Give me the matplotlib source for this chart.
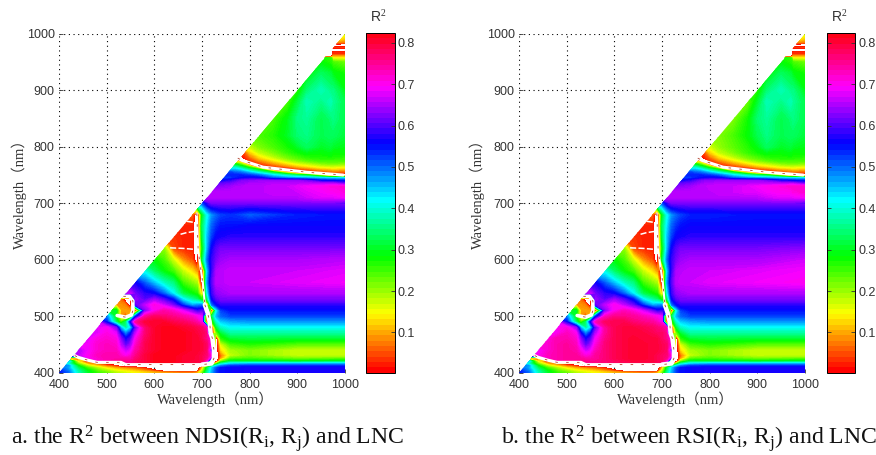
import numpy as np
import matplotlib
matplotlib.use("Agg")
import matplotlib.pyplot as plt
from matplotlib.patches import Polygon
from matplotlib.cm import ScalarMappable
from matplotlib.colors import Normalize

plt.rcParams['mathtext.fontset'] = 'custom'
plt.rcParams['mathtext.rm'] = 'Liberation Serif'
plt.rcParams['mathtext.it'] = 'Liberation Serif'

# R2 x 100, rows right aligned (row starts near the diagonal); negative = no colour (white)
low_x = [400,420,440,460,480,500,520,530,540,550,560,580,600,620,640,660,680,690,700,710,720,730,740,760,800,900,1000]
low_y = [400,404,408,412,416,420,425,430,440,450,460,470,480,490,500,510,520,530,540,560,580,600,620,640,660,680,700]
low_a = [
[55,50,38,30,25,22,18,17,16,15,14,12,10,9,8,7,7,9,20,35,45,52,55,56,57,57,57],
[54,48,36,28,22,18,14,13,12,11,10,7,2,-5,-5,-5,-5,-5,14,32,44,52,55,56,57,57,57],
[52,46,33,24,18,13,9,8,7,6,5,2,-5,-5,-5,-5,-5,-5,10,30,43,51,55,56,57,57,57],
[50,47,28,17,11,6,2,-5,-5,-5,-5,-5,-5,-5,-5,-5,-5,-5,-5,10,30,42,48,52,53,53,53],
[45,38,20,8,3,-5,-5,-3,74,76,78,80,82,82,81,80,80,79,60,-5,-5,18,35,42,44,44,44],
[45,12,-3,72,74,76,76,76,76,78,80,82,82,82,81,80,80,79,70,-5,-5,20,30,29,28,30],
[2,70,72,74,74,74,74,74,77,80,82,82,82,81,81,80,79,76,60,-5,8,22,24,21,22],
[66,70,73,74,74,72,70,72,76,80,82,82,82,81,81,80,79,77,70,-5,6,17,21,17,17],
[65,69,72,73,73,69,66,68,74,79,81,82,82,82,81,81,80,78,60,-5,12,19,21,17,17],
[69,72,73,72,66,60,64,72,79,81,82,82,82,81,81,80,78,70,-5,16,24,26,23,23],
[68,71,72,71,63,56,60,70,78,81,82,82,82,81,81,79,76,70,-5,25,30,31,30,30],
[68,71,68,56,47,54,66,77,81,82,82,82,81,80,79,77,-5,20,30,36,36,36,36],
[68,70,62,44,35,42,60,77,81,82,82,81,80,79,78,74,-5,30,38,41,41,41,41],
[67,54,32,22,32,55,75,80,81,81,79,78,76,74,70,-5,22,38,44,46,47,47,47],
[48,27,8,4,15,50,74,78,77,76,74,72,70,68,-5,30,45,50,52,52,52,52],
[30,9,9,8,-5,62,70,74,72,68,62,58,60,62,-5,40,52,55,55,55,55],
[8,8,7,-5,60,66,71,67,62,52,45,47,48,-5,48,55,58,58,58,58,58],
[6,-5,-5,64,60,64,60,54,42,36,33,25,30,55,60,62,62,62,62,62],
[66,67,62,58,56,50,42,32,28,26,10,38,58,63,64,65,65,65,65],
[56,50,44,38,34,24,20,18,-5,45,60,66,66,67,67,68,69],
[40,33,28,24,17,12,8,-5,42,58,65,66,67,67,67,68],
[28,24,16,8,4,-5,30,48,58,62,64,65,65,65,66],
[20,4,2,2,-5,26,44,56,60,62,62,62,62,62],
[3,2,2,-5,30,44,52,56,57,58,58,58,58],
[2,2,-5,32,42,50,53,55,55,56,56,56],
[5,-5,28,40,47,50,52,53,50,54,55],
[50,58,62,62,62,62,62,62,62],
]
low_b = [
[55,50,38,30,25,22,18,17,16,15,14,12,10,9,8,7,7,9,20,35,45,52,55,56,57,57,57],
[54,48,36,28,22,18,14,13,12,11,10,7,2,-5,-5,-5,-5,-5,14,32,44,52,55,56,57,57,57],
[52,46,33,24,18,13,9,8,7,6,5,2,-5,-5,-5,-5,-5,-5,10,30,43,51,55,56,57,57,57],
[50,47,28,17,11,6,2,-5,-5,-5,-5,-5,-5,-5,-5,-5,-5,-5,-5,10,30,42,48,52,53,53,53],
[45,38,20,8,3,-5,-5,-3,74,75,76,77,78,79,79,79,79,78,60,-5,-5,18,35,42,44,44,44],
[45,12,-3,74,75,76,76,76,76,76,77,78,79,80,80,80,79,78,70,-5,-5,20,30,29,28,30],
[2,73,74,75,75,75,74,74,75,77,79,80,81,81,80,79,78,76,60,-5,8,22,24,21,22],
[70,73,74,75,75,73,71,72,75,77,79,80,81,81,80,79,78,77,70,-5,6,17,21,17,17],
[69,72,74,75,74,70,66,68,73,77,79,80,81,81,80,80,79,78,60,-5,12,19,21,17,17],
[72,74,75,73,66,60,64,71,77,79,80,81,81,80,80,79,78,70,-5,16,24,26,23,23],
[71,74,74,72,63,56,60,69,76,79,80,81,80,80,80,78,76,70,-5,25,30,31,30,30],
[70,73,70,56,47,54,65,75,79,80,80,80,79,78,78,76,-5,20,30,36,36,36,36],
[70,71,63,44,35,42,60,75,79,80,80,79,78,77,76,74,-5,30,38,41,41,41,41],
[68,55,32,22,32,55,73,78,79,79,77,76,75,73,70,-5,22,38,44,46,47,47,47],
[48,27,8,4,15,50,72,76,76,75,73,71,70,68,-5,30,45,50,52,52,52,52],
[30,9,9,8,-5,62,70,73,71,67,61,57,58,60,-5,40,52,55,55,55,55],
[8,8,7,-5,60,66,70,66,61,52,45,46,47,-5,48,55,58,58,58,58,58],
[6,-5,-5,64,60,64,60,54,42,36,33,25,30,55,60,62,62,62,62,62],
[66,67,62,58,56,50,42,32,28,26,10,38,58,63,64,65,65,65,65],
[56,50,44,38,34,24,20,18,-5,45,60,66,67,67,68,69,70],
[40,33,28,24,17,12,8,-5,42,58,65,66,67,67,68,69],
[28,24,16,8,4,-5,30,48,58,62,64,65,65,65,67],
[20,4,2,2,-5,26,44,56,60,62,62,62,62,63],
[3,2,2,-5,30,44,52,56,57,58,58,58,58],
[2,2,-5,32,42,50,53,55,56,56,56,56],
[5,-5,28,40,47,50,52,54,54,55,55],
[50,58,62,62,62,62,62,62,62],
]

up_x = [700,720,740,760,770,780,790,800,820,850,880,900,920,950,970,975,1000]
up_y = [700,710,720,730,735,740,745,750,755,760,765,770,775,780,785,790,800,820,850,880,900,930,950,958,960,964,968,972,976,980,985,990,1000]
up_a = [
[50,62,62,62,62,62,62,62,62,62,62,62,62,62,62,62,60],
[66,66,66,66,66,66,66,66,66,66,66,66,67,68,68,68,69],
[65,66,66,66,66,66,66,66,66,67,67,67,68,69,70,70,71],
[62,63,64,65,65,66,66,66,67,67,68,69,70,71,71,72],
[60,61,62,63,64,64,65,65,66,66,66,66,66,66,66,62],
[55,56,58,60,62,63,63,64,64,64,64,62,56,55,55,54],
[52,54,55,56,57,56,50,47,46,45,43,42,42,42],
[54,54,54,53,52,49,42,36,32,28,14,-5,-5,-5],
[52,50,49,47,44,38,28,10,-5,-5,3,5,5,5],
[44,42,38,34,26,-5,-5,3,5,9,10,11,10],
[36,32,27,20,-5,3,7,10,12,15,16,16,15],
[26,20,12,-5,3,8,12,15,17,20,21,21,20],
[8,-5,2,7,12,17,20,22,24,24,24,24],
[-5,2,5,11,16,21,23,25,26,26,26,25],
[1,3,8,14,19,23,25,27,27,28,27,27],
[5,11,17,21,25,27,29,28,29,28,28],
[17,21,24,27,30,33,30,31,30,29],
[24,26,30,34,35,32,33,33,31],
[24,29,35,36,32,34,35,32],
[24,31,38,35,38,36,32],
[26,34,38,35,35,29],
[28,33,31,29,27],
[28,26,24,22],
[27,25,13,13],
[-5,-5,10,10],
[-5,-5,3,3],
[-5,-5,2,2],
[-5,-5,-5,-5],
[-5,-5,3,3],
[-5,-5,-5,-5],
[-5,-5,8,6],
[-5,-5,14,10],
[-5,-5,16,16],
]
up_b = [
[50,62,62,62,62,62,62,62,62,62,62,62,62,62,62,62,60],
[66,66,66,66,66,66,66,66,66,66,66,66,67,68,68,68,69],
[65,66,66,66,66,66,66,66,67,67,68,68,69,70,70,71,72],
[62,63,64,65,66,66,67,67,67,68,69,70,71,72,72,72],
[60,61,62,63,64,65,65,66,66,66,66,66,66,66,66,62],
[55,56,58,60,62,63,63,64,64,64,64,62,57,56,55,54],
[52,54,55,56,57,56,50,47,46,45,43,42,42,42],
[54,54,54,53,52,49,42,36,32,28,14,-5,-5,-5],
[52,50,49,47,44,38,28,10,-5,-5,3,5,5,5],
[44,42,38,34,26,-5,-5,3,5,9,10,11,10],
[36,32,27,20,-5,3,7,10,12,15,16,16,15],
[26,20,12,-5,3,8,12,15,17,20,21,21,20],
[8,-5,2,7,12,17,20,22,24,24,24,24],
[-5,2,5,11,16,21,23,25,26,26,26,25],
[1,3,8,14,19,23,25,27,27,28,27,27],
[5,11,17,21,25,27,29,28,29,28,28],
[16,20,23,26,29,33,30,31,30,29],
[21,24,28,32,35,32,33,33,31],
[21,27,34,36,32,34,35,32],
[22,30,38,35,38,36,32],
[26,34,38,35,35,29],
[28,33,31,29,27],
[28,26,24,22],
[27,25,13,13],
[-5,-5,10,10],
[-5,-5,3,3],
[-5,-5,2,2],
[-5,-5,-5,-5],
[-5,-5,3,3],
[-5,-5,-5,-5],
[-5,-5,8,6],
[-5,-5,14,10],
[-5,-5,16,16],
]

wl_ticks = [400,500,600,700,800,900,1000]
cbar_ticks = [0.1,0.2,0.3,0.4,0.5,0.6,0.7,0.8]
r2_min, r2_max = 0.003, 0.824

# white gap lines (wavelengths)
gap_h_x = [433,440,460,480,530,540,700]; gap_h_y = [430,427,422,418,418,414,414]
gap_v1_x = [689,692,698,702,705,706]; gap_v1_y = [682,616,580,557,530,520]
gap_v2_x = [706,712,716,718,722,725,725,720,700]; gap_v2_y = [520,505,490,470,460,440,425,416,414]
gap_t_x = [775,784,828,920,996]; gap_t_y = [780,776,764,755,750]
gap_i_x = [535,548,555,555,552,540,522]; gap_i_y = [535,535,527,510,502,498,501]
gap_s_x = [633,660,689]; gap_s_y = [621,620,618]
spk1_x = [655,668,684]; spk1_y = [645,648,650]
spk2_x = [668,684]; spk2_y = [668,666]

def table(rows, n):
    return np.array([[r[0]]*(n-len(r))+r for r in rows], float)/100

W, H = 876, 455
fig = plt.figure(figsize=(W/100, H/100), dpi=100)
grey = '#333333'
cjk = ['Liberation Serif', 'Noto Sans CJK SC']
norm = Normalize(r2_min, r2_max)
levels = np.linspace(r2_min, r2_max, 129)

def panel(x0, cx0, low, up, caption, cap_x, yl_x):
    ax = fig.add_axes([x0/W, 1-372.5/H, 286/W, 338.5/H])
    ax.set_xlim(400,1000); ax.set_ylim(400,1000)
    tri = Polygon([[400,400],[1000,400],[1000,1000]], transform=ax.transData, fc='none', ec='none')
    ax.add_patch(tri)
    for xs, ys, tab in [(low_x, low_y, low), (up_x, up_y, up)]:
        cs = ax.contourf(xs, ys, table(tab, len(xs)), levels=levels, cmap='hsv', norm=norm)
        cs.set_clip_path(tri)
    for xs, ys, lw in [(gap_h_x,gap_h_y,2.2),(gap_v1_x,gap_v1_y,1.5),(gap_v2_x,gap_v2_y,3.2),(gap_t_x,gap_t_y,2.2),(gap_i_x,gap_i_y,2.6)]:
        ax.plot(xs, ys, color='white', lw=lw, solid_capstyle='round', solid_joinstyle='round', zorder=3)
        ax.plot(xs, ys, color='#b0402a', lw=0.6, ls=(0,(3,10)), zorder=3.1)
    for xs, ys in [(gap_s_x,gap_s_y),(spk1_x,spk1_y),(spk2_x,spk2_y)]:
        ax.plot(xs, ys, color='white', lw=1.1, ls=(0,(4,1.5)), zorder=3)
    ax.grid(True, color='black', ls=(0,(1,3.2)), lw=0.8)
    ax.set_axisbelow(True)
    for s in ['top','right']:
        ax.spines[s].set_visible(False)
    ax.spines['left'].set_linewidth(0); ax.spines['bottom'].set_linewidth(0)
    ax.set_xticks(wl_ticks); ax.set_yticks(wl_ticks)
    ax.tick_params(length=3, width=0.6, direction='in', colors=grey, labelsize=9, pad=3)
    ax.tick_params(axis='x', pad=4.5)
    for t in ax.get_xticklabels()+ax.get_yticklabels():
        t.set_family('Liberation Sans')
    fig.text((x0+156)/W, 1-399/H, 'Wavelength（nm）', family=cjk, fontsize=10.5, color=grey, ha='center', va='center')
    fig.text(yl_x/W, 1-190/H, 'Wavelength（nm）', family=cjk, fontsize=10.5, color=grey, ha='center', va='center', rotation=90)
    cax = fig.add_axes([cx0/W, 1-372.5/H, 28.5/W, 339.5/H])
    cb = fig.colorbar(ScalarMappable(norm=norm, cmap=plt.get_cmap('hsv',64)), cax=cax)
    cb.set_ticks(cbar_ticks)
    cb.ax.tick_params(length=3, width=0.6, direction='in', colors=grey, labelsize=9, pad=2, left=True, right=True)
    for t in cb.ax.get_yticklabels():
        t.set_family('Liberation Sans')
    cb.outline.set_linewidth(0.7)
    fig.text((cx0+12)/W, 1-17/H, r'R$^{2}$', family='Liberation Sans', fontsize=10, color=grey, ha='center', va='center')
    fig.text(cap_x/W, 1-438/H, caption, family='Liberation Serif', fontsize=17.1, color='#111111', ha='left', va='center')

panel(59, 366, low_a, up_a, r'a. the R$^{2}$ between NDSI(R$_{\mathrm{i}}$, R$_{\mathrm{j}}$) and LNC', 11, 19)
panel(519, 827, low_b, up_b, r'b. the R$^{2}$ between RSI(R$_{\mathrm{i}}$, R$_{\mathrm{j}}$) and LNC', 501, 477)
fig.savefig('out.png', dpi=100)
